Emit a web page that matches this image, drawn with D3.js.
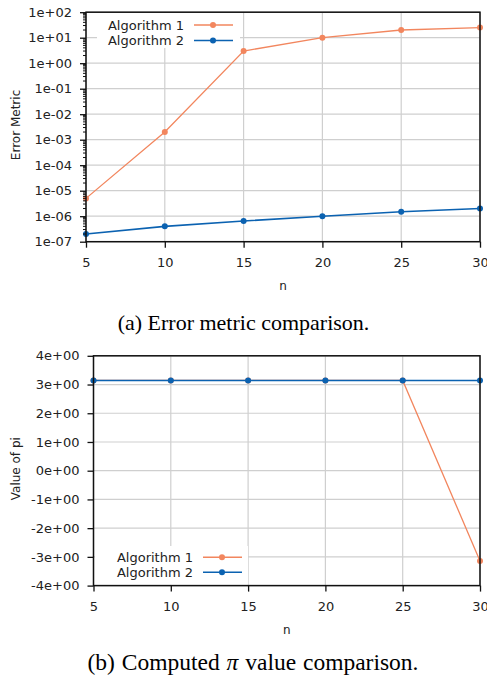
<!DOCTYPE html>
<html>
<head>
<meta charset="utf-8">
<script src="https://cdn.jsdelivr.net/npm/d3@7"></script>
<style>
  body { margin: 0; background: #fff; }
  svg text { font-family: "DejaVu Sans", sans-serif; fill: #222; }
  .caption { font-family: "Liberation Serif", "Times New Roman", serif; fill: #000; }
</style>
</head>
<body>
<div class="figure"><svg></svg></div>
<script>
// data
var nValues = [5, 10, 15, 20, 25, 30];
var seriesNames = ["Algorithm 1", "Algorithm 2"];
var errAlg1 = [5e-6, 2e-3, 3.0, 10, 20, 25];
var errAlg2 = [2e-7, 4e-7, 6.5e-7, 1e-6, 1.5e-6, 2e-6];
var piAlg1 = [3.14159, 3.14159, 3.14159, 3.14159, 3.14159, -3.14159];
var piAlg2 = [3.14159, 3.14159, 3.14159, 3.14159, 3.14159, 3.14159];
var xTicks = [5, 10, 15, 20, 25, 30];
var errTicks = [1e-7, 1e-6, 1e-5, 1e-4, 1e-3, 1e-2, 1e-1, 1e0, 1e1, 1e2];
var errTickLabels = ["1e-07", "1e-06", "1e-05", "1e-04", "1e-03", "1e-02", "1e-01", "1e+00", "1e+01", "1e+02"];
var piTicks = [-4, -3, -2, -1, 0, 1, 2, 3, 4];
var piTickLabels = ["-4e+00", "-3e+00", "-2e+00", "-1e+00", "0e+00", "1e+00", "2e+00", "3e+00", "4e+00"];
var colors = ["#f2865e", "#0b62b1"];

var width = 487, height = 684;
var svg = d3.select(".figure svg")
    .attr("width", width)
    .attr("height", height);

function drawPanel(opts){
    var g = svg.append("g");
    var x = d3.scaleLinear().domain([5, 30]).range([opts.left, opts.right]);
    var y = opts.y;

    // grid
    g.append("g").selectAll("line").data(xTicks).join("line")
        .attr("x1", function(d){ return x(d); })
        .attr("x2", function(d){ return x(d); })
        .attr("y1", opts.top)
        .attr("y2", opts.bottom)
        .attr("stroke", "#cfcfcf")
        .attr("stroke-width", 1.2);
    g.append("g").selectAll("line").data(opts.ticks).join("line")
        .attr("x1", opts.left)
        .attr("x2", opts.right)
        .attr("y1", function(d){ return y(d); })
        .attr("y2", function(d){ return y(d); })
        .attr("stroke", "#cfcfcf")
        .attr("stroke-width", 1.2);

    // lines and points
    var series = [opts.s1, opts.s2];
    series.forEach(function(vals, i){
        var line = d3.line()
            .x(function(d, j){ return x(nValues[j]); })
            .y(function(d){ return y(d); });
        g.append("path")
            .datum(vals)
            .attr("d", line)
            .attr("fill", "none")
            .attr("stroke", colors[i])
            .attr("stroke-width", i == 0 ? 1.3 : 1.6);
        g.append("g").selectAll("circle").data(vals).join("circle")
            .attr("cx", function(d, j){ return x(nValues[j]); })
            .attr("cy", function(d){ return y(d); })
            .attr("r", 3)
            .attr("fill", colors[i]);
    });

    // legend
    var lg = g.append("g");
    lg.append("rect")
        .attr("x", opts.legend.x0)
        .attr("y", opts.legend.y0)
        .attr("width", opts.legend.x1 - opts.legend.x0)
        .attr("height", opts.legend.y1 - opts.legend.y0)
        .attr("fill", "#fff");
    seriesNames.forEach(function(name, i){
        var ly = opts.legend.rows[i];
        lg.append("text")
            .text(name)
            .attr("x", opts.legend.textRight)
            .attr("y", ly)
            .attr("dy", "0.35em")
            .style("font-size", "13px")
            .style("text-anchor", "end");
        lg.append("line")
            .attr("x1", opts.legend.textRight + 10)
            .attr("x2", opts.legend.textRight + 49)
            .attr("y1", ly)
            .attr("y2", ly)
            .attr("stroke", colors[i])
            .attr("stroke-width", 1.5);
        lg.append("circle")
            .attr("cx", opts.legend.textRight + 29)
            .attr("cy", ly)
            .attr("r", 3)
            .attr("fill", colors[i]);
    });

    // frame
    g.append("rect")
        .attr("x", opts.left)
        .attr("y", opts.top)
        .attr("width", opts.right - opts.left)
        .attr("height", opts.bottom - opts.top)
        .attr("fill", "none")
        .attr("stroke", "#111")
        .attr("stroke-width", 1.5);

    // axes
    var xAxis = g.append("g")
        .attr("transform", "translate(0," + opts.bottom + ")")
        .call(d3.axisBottom(x).tickValues(xTicks).tickSize(6).tickPadding(10).tickFormat(d3.format("d")));
    var yAxis = g.append("g")
        .attr("transform", "translate(" + opts.left + ",0)")
        .call(d3.axisLeft(y).tickValues(opts.ticks).tickSize(6).tickPadding(8)
            .tickFormat(function(d, i){ return opts.tickLabels[i]; }));
    [xAxis, yAxis].forEach(function(a){
        a.select(".domain").remove();
        a.selectAll("line").attr("stroke", "#111").attr("stroke-width", 1.3);
        a.selectAll("text").style("font-size", "13px").style("font-family", "DejaVu Sans").attr("fill", "#222");
    });
    if(opts.minor){
        g.append("g").selectAll("line").data(opts.minor).join("line")
            .attr("x1", opts.left - 3)
            .attr("x2", opts.left)
            .attr("y1", function(d){ return y(d); })
            .attr("y2", function(d){ return y(d); })
            .attr("stroke", "#111")
            .attr("stroke-width", 1);
    }

    // titles
    g.append("text")
        .text("n")
        .attr("x", (opts.left + opts.right) / 2)
        .attr("y", opts.bottom + 48)
        .style("font-size", "12px")
        .style("text-anchor", "middle");
    g.append("text")
        .text(opts.yTitle)
        .attr("transform", "translate(20," + ((opts.top + opts.bottom) / 2 - 2) + ") rotate(-90)")
        .style("font-size", "12px")
        .style("text-anchor", "middle");
    g.append("text")
        .attr("class", "caption")
        .text(opts.caption)
        .attr("x", opts.captionX)
        .attr("y", opts.captionY)
        .style("font-size", opts.captionSize + "px")
        .style("word-spacing", opts.wordSpacing + "px")
        .style("text-anchor", "middle");
}

// minor ticks for the log axis
var minorTicks = [];
errTicks.slice(0, -1).forEach(function(t){
    for(var k = 2; k < 10; k++){ minorTicks.push(t * k); }
});

drawPanel({
    left: 86, right: 480, top: 12.2, bottom: 241.7,
    y: d3.scaleLog().domain([1e-7, 1e2]).range([241.7, 12.2]),
    ticks: errTicks, tickLabels: errTickLabels, minor: minorTicks,
    s1: errAlg1, s2: errAlg2,
    legend: { x0: 97, x1: 240, y0: 13, y1: 48, textRight: 184, rows: [25, 40.5] },
    yTitle: "Error Metric",
    caption: "(a) Error metric comparison.",
    captionX: width / 2, captionY: 330, captionSize: 22, wordSpacing: 0
});

drawPanel({
    left: 93.5, right: 480, top: 355.8, bottom: 585.6,
    y: d3.scaleLinear().domain([-4, 4]).range([585.6, 355.8]),
    ticks: piTicks, tickLabels: piTickLabels, minor: null,
    s1: piAlg1, s2: piAlg2,
    legend: { x0: 95, x1: 248, y0: 546, y1: 584.8, textRight: 193, rows: [557.3, 572.3] },
    yTitle: "Value of pi",
    caption: "(b) Computed \u03C0 value comparison.",
    captionX: 253, captionY: 670, captionSize: 23.5, wordSpacing: 1
});

// italic pi in caption b
svg.selectAll(".caption").filter(function(){ return this.textContent.indexOf("\u03C0") >= 0; })
    .each(function(){
        var t = d3.select(this), txt = t.text(), parts = txt.split("\u03C0");
        t.text("");
        t.append("tspan").text(parts[0] + " ");
        t.append("tspan").text("\u03C0").style("font-style", "italic");
        t.append("tspan").text("  " + parts[1]);
    });
</script>
</body>
</html>
